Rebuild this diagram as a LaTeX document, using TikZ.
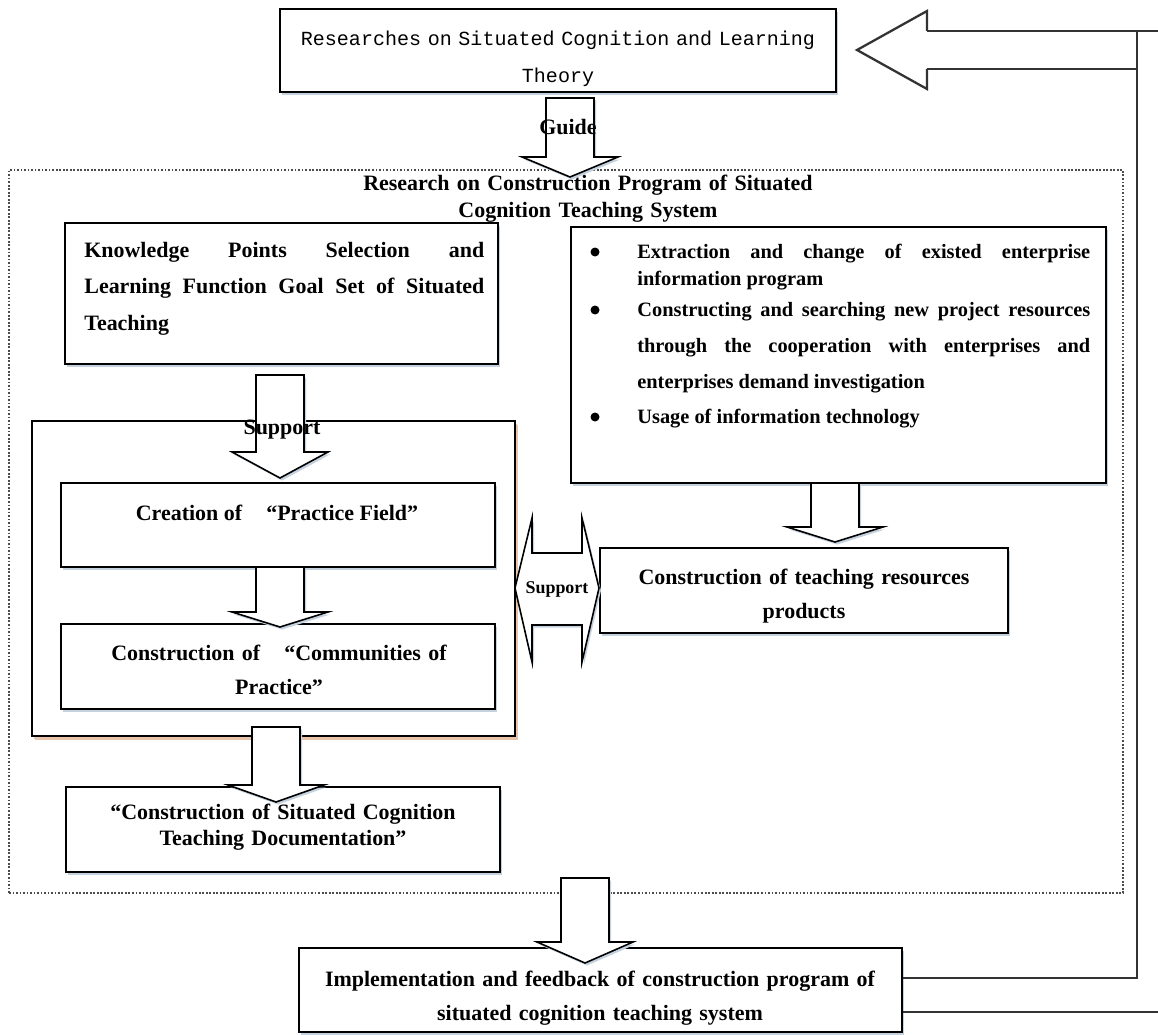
\documentclass[tikz,border=0pt]{standalone}
\usepackage{fontspec}
\setmainfont{Liberation Serif}
\newfontfamily\gothfont{Liberation Mono}
\usetikzlibrary{shadows,fit,calc}

\definecolor{shadowblue}{RGB}{196,210,224}
\definecolor{shadoworange}{RGB}{232,196,172}

% hollow block arrow pointing down: start, tip, head length (px)
\newcommand{\hollowdown}[3]{%
  \draw[blockarrow] let \p1=(#1), \p2=(#2) in
    ($(\x1,\y1)+(-24,0)$) -- ($(\x1,\y1)+(24,0)$) -- ($(\x1,\y2)+(24,-#3)$)
    -- ($(\x1,\y2)+(48,-#3)$) -- (\x1,\y2) -- ($(\x1,\y2)+(-48,-#3)$)
    -- ($(\x1,\y2)+(-24,-#3)$) -- cycle;
}

\begin{document}
\begin{tikzpicture}[x=0.02cm, y=-0.02cm,
    box/.style={draw, fill=white, line width=1pt, inner sep=0pt,
        drop shadow={shadow xshift=0.04cm, shadow yshift=-0.06cm, fill=shadowblue, opacity=1}},
    blockarrow/.style={draw, fill=white, line width=0.9pt, line join=miter,
        drop shadow={shadow xshift=0.04cm, shadow yshift=-0.05cm, fill=shadowblue, opacity=1}},
    fbline/.style={draw=black!80, line width=1.3pt},
    txt/.style={inner sep=0pt, font=\bfseries\fontsize{12.5}{15}\selectfont},
    ctxt/.style={txt, align=center, anchor=base},
    just/.style={txt, align=justify, anchor=base west, execute at begin node={\sloppy\hyphenpenalty=10000}},
    dot/.style={circle, fill, inner sep=0pt, minimum size=0.18cm}]
    \useasboundingbox (0,0) rectangle (1158,1034);

    % frames and boxes
    \node[draw=black!70, densely dotted, line width=1pt, inner sep=0pt, fit={(9,170) (1123,893)}] (frame) {};
    \node[box, fit={(280,9) (836,92)}] (theory) {};
    \node[box, fit={(65,223) (498,364)}] (knowledge) {};
    \node[box, drop shadow={shadow xshift=0.05cm, shadow yshift=-0.07cm, fill=shadoworange, opacity=1},
        fit={(32,421) (515,736)}] (practice) {};
    \node[box, fit={(61,483) (495,567)}] (field) {};
    \node[box, fit={(61,624) (495,709)}] (community) {};
    \node[box, fit={(66,787) (500,872)}] (document) {};
    \node[box, fit={(571,227) (1106,483)}] (resource) {};
    \node[box, fit={(600,548) (1008,633)}] (product) {};
    \node[box, fit={(299,948) (902,1032)}] (impl) {};

    % block arrows
    \coordinate (guideS) at (570,98);   \coordinate (guideT) at (570,177);
    \coordinate (supS) at (280,375);    \coordinate (supT) at (280,478);
    \coordinate (fieldS) at (280,567);  \coordinate (fieldT) at (280,627);
    \coordinate (docS) at (276,727);    \coordinate (docT) at (276,802);
    \coordinate (resS) at (835,483);    \coordinate (resT) at (835,542);
    \coordinate (implS) at (585,878);   \coordinate (implT) at (585,963);
    \hollowdown{guideS}{guideT}{20}
    \hollowdown{supS}{supT}{26}
    \hollowdown{fieldS}{fieldT}{15}
    \hollowdown{docS}{docT}{17}
    \hollowdown{resS}{resT}{15}
    \hollowdown{implS}{implT}{21}
    \draw[blockarrow] (515,588) -- (532,518) -- (532,553) -- (582,553) -- (582,518) -- (599,588)
        -- (582,662) -- (582,625) -- (532,625) -- (532,662) -- cycle;

    % feedback arrow
    \coordinate (fbtop) at (1137,31);
    \coordinate (fbbot) at (1137,978);
    \draw[fbline, fill=white] (927,31) -- (927,11) -- (857,50) -- (927,89) -- (927,69);
    \draw[fbline] (927,31) -- (1158,31);
    \draw[fbline] (927,69) -- (fbtop |- 0,69);
    \draw[fbline] (fbtop) -- (fbbot) -- (impl.east |- fbbot);
    \draw[fbline] (impl.east |- 0,1012) -- (1158,1012);

    % texts
    \node[ctxt, text width=11cm, font=\gothfont\fontsize{11.4}{20.5}\selectfont]
        (theorytxt) at (558,46) {Researches on Situated Cognition and Learning\\Theory};
    \node[txt, anchor=base] (guide) at (568,134) {Guide};
    \node[ctxt, text width=10cm, font=\bfseries\fontsize{12.5}{15.4}\selectfont]
        (title) at (588,190) {Research on Construction Program of Situated\\Cognition Teaching System};
    \node[just, text width=8cm, font=\bfseries\fontsize{12.5}{21}\selectfont]
        (knowtxt) at (84,257) {Knowledge Points Selection and\linebreak Learning Function Goal Set of Situated\linebreak Teaching};
    \node[txt, anchor=base] (support) at (282,434) {Support};
    \node[txt, anchor=base] (fieldtxt) at (277,520) {Creation of\hspace{1.1em}“Practice Field”};
    \node[ctxt, text width=8.6cm, font=\bfseries\fontsize{12.5}{19.9}\selectfont]
        (commtxt) at (279,660) {Construction of\hspace{1.1em}“Communities of\\Practice”};
    \node[ctxt, text width=8.6cm, font=\bfseries\fontsize{12.5}{14.8}\selectfont]
        (doctxt) at (283,819) {“Construction of Situated Cognition\\Teaching Documentation”};
    \node[dot] (dot1) at (595,252) {};
    \node[dot] (dot2) at (595,310) {};
    \node[dot] (dot3) at (595,417) {};
    \node[just, text width=9.06cm, font=\bfseries\fontsize{11.6}{15.4}\selectfont]
        (item1) at (637,258) {Extraction and change of existed enterprise\linebreak information program};
    \node[just, text width=9.06cm, font=\bfseries\fontsize{11.6}{20.5}\selectfont]
        (item2) at (637,316) {Constructing and searching new project resources\linebreak through the cooperation with enterprises and\linebreak enterprises demand investigation};
    \node[just, text width=9.06cm, font=\bfseries\fontsize{11.6}{15}\selectfont]
        (item3) at (637,423) {Usage of information technology};
    \node[ctxt, text width=8cm, font=\bfseries\fontsize{12.5}{19.9}\selectfont]
        (prodtxt) at (804,584) {Construction of teaching resources\\products};
    \node[txt, anchor=base, font=\bfseries\fontsize{10.2}{12}\selectfont] (support2) at (557,593) {Support};
    \node[ctxt, text width=12cm, font=\bfseries\fontsize{12.5}{19.4}\selectfont]
        (impltxt) at (600,986) {Implementation and feedback of construction program of\\situated cognition teaching system};
\end{tikzpicture}
\end{document}
